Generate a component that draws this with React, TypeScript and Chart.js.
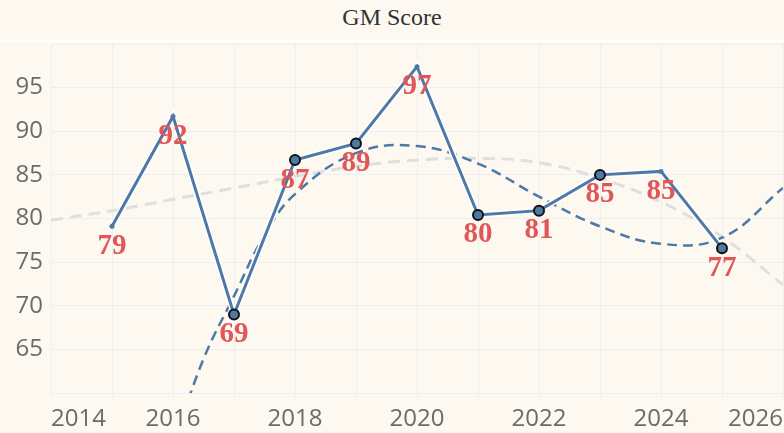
import React, { useEffect, useRef } from "react";
import { Chart, registerables } from "chart.js";

Chart.register(...registerables);

// ---- data ----
const years = [2015, 2016, 2017, 2018, 2019, 2020, 2021, 2022, 2023, 2024, 2025];
const gmScore = [79.1, 91.7, 69.0, 86.7, 88.6, 97.4, 80.4, 80.9, 85.0, 85.4, 76.6];
const markedYears = [2017, 2018, 2019, 2021, 2022, 2023, 2025];

// blue dashed trend
const trendYears = [2016, 2016.5, 2017, 2017.5, 2018, 2019, 2020, 2021, 2022, 2023, 2024, 2025, 2026];
const trendValues = [54.0, 63.9, 71.1, 78.1, 82.8, 87.5, 88.3, 86.3, 82.5, 79.1, 77.1, 77.8, 83.5];

// light grey dashed trend
const longTrendYears = [2014, 2015, 2016, 2017, 2018, 2019, 2020, 2021, 2022, 2023, 2024, 2025, 2026];
const longTrendValues = [79.8, 80.9, 82.2, 83.5, 84.8, 86.0, 86.7, 86.9, 86.4, 84.6, 81.9, 77.9, 72.4];

const xMin = 2014;
const xMax = 2026;
const yMin = 60;
const yMax = 100;

const BG = "#fdf9f1";
const LINE = "#4e79a7";
const GRID = "#eceef0";
const LABEL_RED = "#e15759";

export default function App() {
  const ref = useRef<HTMLCanvasElement | null>(null);

  useEffect(() => {
    document.body.style.margin = "0";
    document.body.style.background = BG;
    const canvas = ref.current;
    if (!canvas) return;

    const mainPts = () => years.map((y, i) => ({ x: y, y: gmScore[i] }));

    const valueLabels = {
      id: "valueLabels",
      afterDatasetsDraw(chart: any) {
        const meta = chart.getDatasetMeta(3);
        const ctx = chart.ctx;
        ctx.save();
        ctx.font = "bold 29px 'Liberation Serif', 'Times New Roman', serif";
        ctx.fillStyle = LABEL_RED;
        ctx.textAlign = "center";
        ctx.textBaseline = "middle";
        meta.data.forEach((el: any, i: number) => {
          ctx.fillText(String(Math.round(gmScore[i])), el.x, el.y + 20);
        });
        ctx.restore();
      },
    };

    const chart = new Chart(canvas, {
      type: "line",
      data: {
        datasets: [
          {
            data: longTrendYears.map((y, i) => ({ x: y, y: longTrendValues[i] })),
            borderColor: "#dde0df",
            borderWidth: 3,
            borderDash: [12, 7],
            pointRadius: 0,
            tension: 0.4,
            fill: false,
            order: 4,
          },
          {
            data: trendYears.map((y, i) => ({ x: y, y: trendValues[i] })),
            borderColor: LINE,
            borderWidth: 2.5,
            borderDash: [10, 6],
            pointRadius: 0,
            tension: 0.4,
            fill: false,
            order: 3,
          },
          {
            data: mainPts(),
            borderColor: "#ffffff",
            borderWidth: 6,
            pointRadius: 0,
            tension: 0,
            fill: false,
            order: 2,
          },
          {
            data: mainPts(),
            borderColor: LINE,
            borderWidth: 3,
            tension: 0,
            fill: false,
            order: 1,
            pointRadius: years.map((y) => (markedYears.includes(y) ? 5 : 2.5)),
            pointBorderWidth: years.map((y) => (markedYears.includes(y) ? 2 : 0)),
            pointBorderColor: years.map((y) => (markedYears.includes(y) ? "#111111" : LINE)),
            pointBackgroundColor: LINE,
          },
        ],
      },
      options: {
        animation: false,
        responsive: false,
        devicePixelRatio: 1,
        layout: { autoPadding: false, padding: { top: 2, right: 1, left: 0, bottom: 0 } },
        plugins: {
          legend: { display: false },
          title: { display: false },
          tooltip: { enabled: false },
        },
        scales: {
          x: {
            type: "linear",
            min: xMin,
            max: xMax,
            border: { display: false },
            grid: { color: GRID, lineWidth: 1, drawTicks: true, tickLength: 4 },
            afterFit(scale: any) {
              scale.height = 40;
              scale.paddingLeft = 0;
              scale.paddingRight = 0;
            },
            ticks: {
              stepSize: 1,
              autoSkip: false,
              maxRotation: 0,
              align: "inner",
              padding: 8,
              color: "#6b6b6b",
              font: { family: "'Open Sans'", size: 24 },
              callback: (v: any) => (Number(v) % 2 === 0 ? String(v) : ""),
            },
          },
          y: {
            min: yMin,
            max: yMax,
            border: { display: false },
            grid: { color: GRID, lineWidth: 1, drawTicks: false },
            afterFit(scale: any) {
              scale.width = 51;
              scale.paddingTop = 0;
              scale.paddingBottom = 0;
            },
            ticks: {
              stepSize: 5,
              padding: 8,
              color: "#6b6b6b",
              font: { family: "'Open Sans'", size: 24 },
              callback: (v: any) => (Number(v) === yMin || Number(v) === yMax ? "" : String(v)),
            },
          },
        },
      },
      plugins: [valueLabels],
    });

    return () => chart.destroy();
  }, []);

  return (
    <div style={{ position: "fixed", left: 0, top: 0, width: 784, height: 433, background: BG, overflow: "hidden" }}>
      <div
        style={{
          height: 40,
          borderBottom: "2px solid #ffffff",
          display: "flex",
          alignItems: "center",
          justifyContent: "center",
          boxSizing: "content-box",
          fontFamily: "'Liberation Serif', 'Times New Roman', serif",
          fontSize: 24,
          color: "#333333",
        }}
      >
        <span style={{ position: "relative", top: -3 }}>GM Score</span>
      </div>
      <canvas ref={ref} width={784} height={391} style={{ display: "block" }} />
    </div>
  );
}
